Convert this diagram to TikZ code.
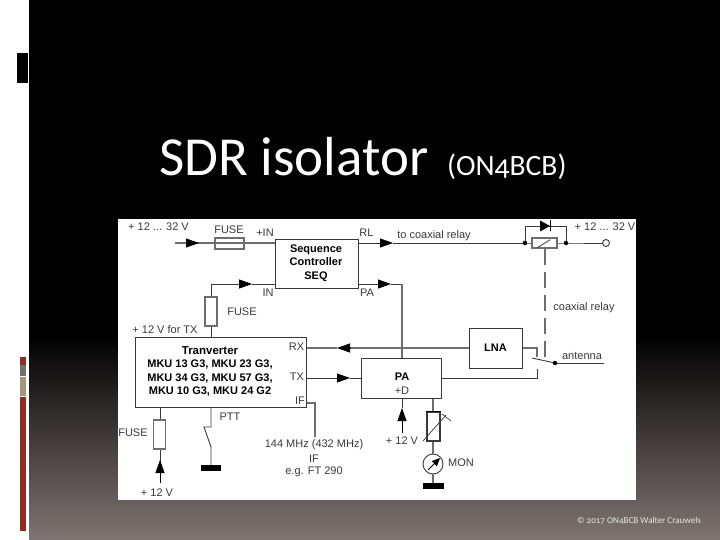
\documentclass[tikz,border=0pt]{standalone}
\usepackage{fontspec}
\setmainfont{Liberation Sans}
\newfontfamily\titlefont[Numbers=OldStyle]{Carlito}
\usetikzlibrary{arrows.meta,calc}
\definecolor{ink}{HTML}{3A3A3A}
\definecolor{soft}{HTML}{6E6E6E}
\definecolor{foot}{HTML}{E8E4E2}
\definecolor{brick}{HTML}{8F2D25}
\definecolor{slate}{HTML}{70706E}
\definecolor{tan}{HTML}{A69578}
\definecolor{ground}{HTML}{7F7573}
\tikzset{
 x=1pt,y=-1pt,
 wire/.style={draw=ink,line width=0.9pt},
 softwire/.style={draw=soft,line width=1.5pt},
 blockbox/.style={draw=ink,line width=1pt,fill=white,inner sep=0pt,align=center},
 fusebox/.style={draw=soft,line width=1.1pt,fill=white,inner sep=0pt},
 lbl/.style={inner sep=0pt,text=ink,font=\fontsize{11}{13}\selectfont,align=center},
 blbl/.style={lbl,text=black,font=\fontsize{11}{13.6}\selectfont\bfseries},
 flow/.style={draw=black,line width=0.8pt,-{Triangle[length=13pt,width=9pt]}},
 joint/.style={circle,fill=black,inner sep=0pt,minimum size=4.5pt},
 earth/.style={fill=black,inner sep=0pt,draw=none}
}
\begin{document}
\begin{tikzpicture}
\useasboundingbox (0,0) rectangle (720,540);
% slide
\fill[white] (0,0) rectangle (29,540);
\fill[black] (29,0) rectangle (720,335);
\shade[top color=black,bottom color=ground] (29,335) rectangle (720,540);
\fill[black] (17,53) rectangle (28,83);
\fill[brick] (20,357) rectangle (26,365);
\fill[slate] (20,365) rectangle (26,376);
\fill[tan] (20,377) rectangle (26,396);
\fill[brick] (20,397) rectangle (26,531);
\node[anchor=base west,inner sep=0pt,text=white,font=\titlefont\fontsize{55}{55}\selectfont] (title) at (159,176) {SDR isolator};
\node[anchor=base west,inner sep=0pt,text=white,font=\titlefont\fontsize{29.5}{30}\selectfont] (sub) at (447,176) {(ON4BCB)};
\node[inner sep=0pt,text=foot,font=\titlefont\fontsize{9.1}{10}\selectfont] (copy) at (639,521) {© 2017 ON4BCB Walter Crauwels};
% image
\fill[white] (118,219) rectangle (636,500);
% coordinates
\coordinate (inL) at (175,243);
\coordinate (a1) at (186,243); \coordinate (a1e) at (199,243);
\coordinate (rlA) at (378,243); \coordinate (rlAe) at (393,243);
\coordinate (pa1) at (378,284); \coordinate (pa1e) at (391,284);
\coordinate (in1) at (239,284); \coordinate (in1e) at (252,284);
\coordinate (corn) at (211,284);
\coordinate (paC) at (402,284);
\coordinate (lnaC) at (537,348);
\coordinate (ctA) at (537,357);
\coordinate (ctB) at (537,369);
\coordinate (ctC) at (537,378);
\coordinate (blade) at (532,358);
\coordinate (antE) at (604,363);
\coordinate (ifA) at (315,403);
\coordinate (ifB) at (315,437);
\coordinate (dashE) at (545,358);
% boxes
\node[blockbox,minimum width=82.5,minimum height=49] (seq) at (317.2,263.5) {};
\node[blbl] (seqt) at (316,263) {Sequence\\Controller\\SEQ};
\node[blockbox,minimum width=171,minimum height=70] (trv) at (220.5,372) {};
\node[blbl] (trvt) at (210,371.3) {\fontsize{11.5}{13.6}\selectfont Tranverter\\MKU 13 G3, MKU 23 G3,\\MKU 34 G3, MKU 57 G3,\\MKU 10 G3, MKU 24 G2};
\node[blockbox,minimum width=53,minimum height=40] (lna) at (495.5,348) {};
\node[blbl] (lnat) at (495.5,348) {LNA};
\node[blockbox,minimum width=79.5,minimum height=40] (pa) at (401.7,378) {};
\node[blbl] (pat) at (402,377) {PA};
\node[lbl] (pad) at (402,391) {+D};
% top wire and fuse
\draw[softwire] (inL) -- (seq.west |- inL);
\node[fusebox,minimum width=29,minimum height=11,fill=none] (fu1) at (229.5,243.5) {};
\draw[flow] (a1) -- (a1e);
\draw[wire] (seq.east |- rlA) -- (rlA);
\draw[flow] (rlA) -- (rlAe);
% relay
\coordinate (j1c) at (525,243);
\coordinate (j2c) at (566,243);
\node[circle,draw=ink,line width=0.9pt,fill=white,inner sep=0pt,minimum size=7pt] (term) at (606,243) {};
\draw[wire] (rlAe) -- (j1c);
\draw[wire] (j1c) -- (j2c) -- (term);
\node[joint] (j1) at (j1c) {};
\node[joint] (j2) at (j2c) {};
\coordinate (dtop1) at (525,226);
\coordinate (dtop2) at (566,226);
\draw[wire] (j1) -- (dtop1) -- (dtop2) -- (j2);
\fill[black] (540,220.5) -- (550,226) -- (540,231.5) -- cycle;
\draw[black,line width=1.1pt] (550.5,220.5) -- (550.5,231.5);
\node[blockbox,draw=soft,line width=1.2pt,minimum width=25,minimum height=10] (rel) at (544.5,243) {};
\draw[ink,line width=0.8pt] (rel.south west) ++(6,-1) -- ++(13,-8);
\draw[draw=soft,line width=1.8pt,dash pattern=on 16pt off 7pt] (rel.south -| dashE) -- (dashE);
% IN wire
\draw[wire] (trv.north -| corn) -- (corn) -- (in1);
\draw[flow] (in1) -- (in1e);
\draw[wire] (in1e) -- (seq.west |- in1e);
\node[fusebox,minimum width=12,minimum height=29] (fu2) at (211,311.5) {};
% PA wire
\draw[wire] (seq.east |- pa1) -- (pa1);
\draw[flow] (pa1) -- (pa1e);
\draw[wire] (pa1e) -- (paC);
\draw[softwire] (paC) -- (pa.north -| paC);
% RX / LNA
\coordinate (rx1) at (350,348); \coordinate (rx1e) at (337,348);
\draw[softwire] (lna.west) -- (rx1);
\draw[softwire] (rx1e) -- (trv.east |- rx1e);
\draw[flow] (rx1) -- (rx1e);
\draw[softwire,line width=1.1pt] (lna.east) -- (lnaC) -- (ctA);
\draw[wire] (blade) -- (555,363);
\node[joint] (sw) at (555,363) {};
\draw[wire] (sw) -- (antE);
\draw[wire] (ctB) -- (ctC) -- (pa.east |- ctC);
% TX
\coordinate (tx1) at (337,378); \coordinate (tx1e) at (350,378);
\draw[wire] (trv.east |- tx1) -- (tx1);
\draw[flow] (tx1) -- (tx1e);
\draw[wire] (tx1e) -- (pa.west |- tx1e);
% IF
\draw[softwire,line width=1.1pt] (trv.east |- ifA) -- (ifA) -- (ifB);
% bottom-left fuse
\coordinate (bfT) at (160,407);
\coordinate (bfB) at (160,483);
\coordinate (bfA) at (160,472); \coordinate (bfAe) at (160,460);
\draw[wire] (bfT) -- (bfA);
\draw[flow] (bfB) -- (bfAe);
\node[fusebox,minimum width=11.5,minimum height=29] (fu3) at (159.5,434.5) {};
% PTT
\coordinate (pttA) at (211,427); \coordinate (pttB) at (204,427);
\coordinate (pttC) at (211,447); 
\node[earth,minimum width=20,minimum height=6] (gnd1) at (211,468) {};
\draw[wire] (trv.south -| pttA) -- (pttA) -- (pttB) -- (pttC) -- (gnd1.north -| pttC);
% PA bottom
\coordinate (dA) at (402,433); \coordinate (dAe) at (402,408);
\draw[flow] (dA) -- (dAe);
\draw[wire] (dAe) -- (pa.south -| dAe);
\node[circle,draw=ink,line width=0.9pt,fill=white,inner sep=0pt,minimum size=20pt] (meter) at (433,464) {};
\node[earth,minimum width=21,minimum height=6] (gnd2) at (433.5,486) {};
\draw[softwire] (pa.south -| meter) -- (meter.north);
\draw[softwire] (meter.south) -- (gnd2.north -| meter);
\node[fusebox,draw=ink,minimum width=13,minimum height=29] (res) at (433.5,426.5) {};
\draw[black,line width=1.6pt] (res.north west) -- (res.north east);
\draw[ink,line width=0.7pt] (423,441) -- (446,415);
\draw[ink,line width=0.7pt] (442,414) -- (451,421);
\draw[black,line width=0.9pt,-{Triangle[length=8pt,width=7pt]}] (428,470) -- (440,458);
% labels
\node[lbl] (t1) at (158.5,227) {+ 12 ... 32 V};
\node[lbl] (t2) at (229,230) {FUSE};
\node[lbl] (t3) at (265,233) {+IN};
\node[lbl] (t4) at (366.5,232.5) {RL};
\node[lbl] (t5) at (434,236) {to coaxial relay};
\node[lbl] (t6) at (605,227) {+ 12 ... 32 V};
\node[lbl] (t7) at (584,308) {coaxial relay};
\node[lbl] (t8) at (268,293) {IN};
\node[lbl] (t9) at (367,293) {PA};
\node[lbl] (t10) at (242,312) {FUSE};
\node[lbl] (t11) at (165,330) {+ 12 V for TX};
\node[lbl] (t12) at (296.5,347) {RX};
\node[lbl] (t13) at (297,377) {TX};
\node[lbl] (t14) at (300,401) {IF};
\node[lbl] (t15) at (582,356) {antenna};
\node[lbl] (t16) at (133,433) {FUSE};
\node[lbl] (t17) at (230,417) {PTT};
\node[lbl] (t18) at (157,493) {+ 12 V};
\node[lbl] (t19) at (314,445) {144 MHz (432 MHz)};
\node[lbl] (t20) at (314,459) {IF};
\node[lbl] (t21) at (314,472) {e.g. FT 290};
\node[lbl] (t22) at (402,441) {+ 12 V};
\node[lbl] (t23) at (461,463) {MON};
\end{tikzpicture}
\end{document}
